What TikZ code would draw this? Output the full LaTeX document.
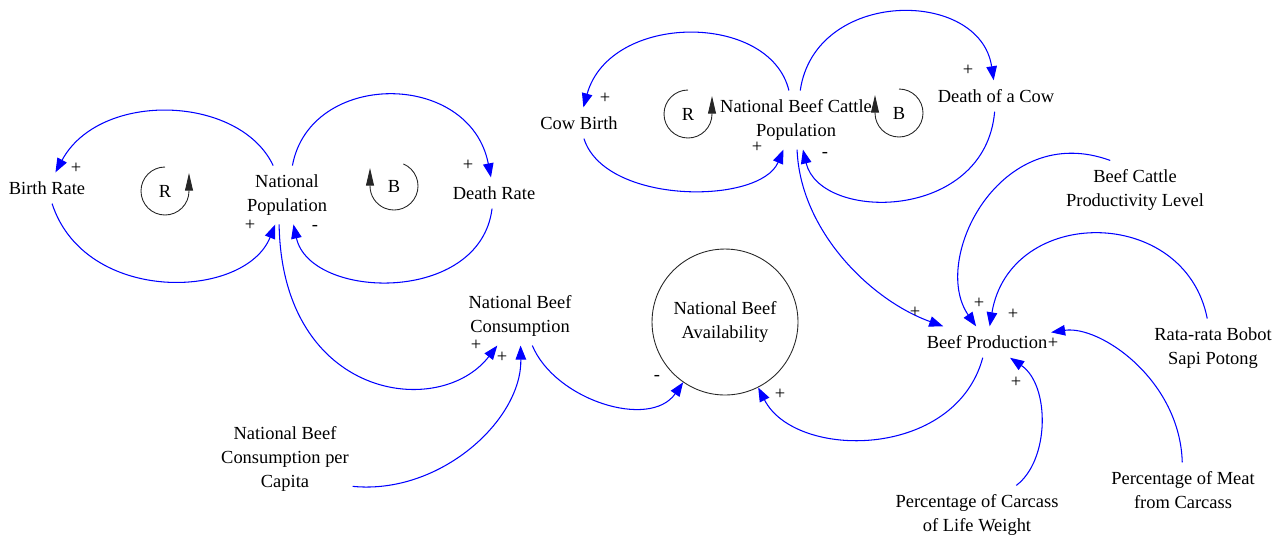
\documentclass[tikz,border=0pt]{standalone}
\usepackage{fontspec}
\setmainfont{Liberation Serif}
\usetikzlibrary{arrows.meta}

\begin{document}
\begin{tikzpicture}
    [x=0.02cm,y=-0.02cm,
     var/.style={align=center, inner xsep=2pt, inner ysep=5pt, font=\fontsize{10.5}{13.6}\selectfont},
     sign/.style={inner sep=0pt, font=\fontsize{10.5}{12}\selectfont},
     link/.style={draw=blue, line width=0.6pt, -{Triangle[length=8pt,width=6pt]}},
     loopline/.style={draw=black!85, line width=0.5pt, -{Triangle[length=10pt,width=4.5pt]}}]

    \useasboundingbox (0,0) rectangle (1283,539);

    % variables
    \node[var] (birth) at (47,188) {Birth Rate};
    \node[var] (pop) at (287,195) {National\\Population};
    \node[var] (death) at (494,193) {Death Rate};
    \node[var] (cowbirth) at (579,123) {Cow Birth};
    \node[var] (cattle) at (796,120) {National Beef Cattle\\Population};
    \node[var] (cowdeath) at (996,96) {Death of a Cow};
    \node[var] (cons) at (520,316) {National Beef\\Consumption};
    \node[var] (percap) at (285,459) {National Beef\\Consumption per\\Capita};
    \node[var, circle, draw=black!85, line width=0.5pt, minimum size=2.92cm, inner sep=0pt] (avail) at (725,322) {National Beef\\Availability};
    \node[var] (prod) at (987,342) {Beef Production};
    \node[var] (level) at (1135,190) {Beef Cattle\\Productivity Level};
    \node[var] (bobot) at (1213,348) {Rata-rata Bobot\\Sapi Potong};
    \node[var] (meat) at (1183,490) {Percentage of Meat\\from Carcass};
    \node[var] (carcass) at (977,515) {Percentage of Carcass\\of Life Weight};

    % loop markers
    \node[var, inner sep=0pt] (loopR1) at (165,191) {R};
    \node[var, inner sep=0pt] (loopB1) at (394,186) {B};
    \node[var, inner sep=0pt] (loopR2) at (688,114) {R};
    \node[var, inner sep=0pt] (loopB2) at (899,113) {B};
    \draw[loopline] (loopR1) ++(-90:24) arc[start angle=-90, end angle=-360, radius=24] -- ++(0,-18);
    \draw[loopline] (loopB1) ++(-67:24) arc[start angle=-67, end angle=180, radius=24] -- ++(0,-18);
    \draw[loopline] (loopR2) ++(-90:24) arc[start angle=-90, end angle=-360, radius=24] -- ++(0,-18);
    \draw[loopline] (loopB2) ++(-90:24) arc[start angle=-90, end angle=180, radius=24] -- ++(0,-18);

    % links
    \draw[link] (pop) .. controls (240,95) and (100,90) .. (birth);
    \draw[link] (birth) .. controls (85,305) and (245,300) .. (pop);
    \draw[link] (pop) .. controls (310,70) and (470,70) .. (death);
    \draw[link] (death) .. controls (480,305) and (310,300) .. (pop);
    \draw[link] (pop.-105) .. controls (282,400) and (440,420) .. (cons);
    \draw[link] (percap.-22) .. controls (440,495) and (522,420) .. (cons);
    \draw[link] (cons) .. controls (555,400) and (650,430) .. (avail);
    \draw[link] (prod) .. controls (955,460) and (795,460) .. (avail);
    \draw[link] (cattle) .. controls (770,12) and (610,12) .. (cowbirth);
    \draw[link] (cowbirth) .. controls (605,205) and (760,205) .. (cattle);
    \draw[link] (cattle) .. controls (815,-12) and (980,-12) .. (cowdeath);
    \draw[link] (cowdeath) .. controls (985,222) and (820,222) .. (cattle);
    \draw[link] (cattle) .. controls (800,230) and (870,300) .. (prod);
    \draw[link] (level.130) .. controls (1000,120) and (930,260) .. (prod);
    \draw[link] (bobot) .. controls (1185,205) and (1010,205) .. (prod);
    \draw[link] (meat) .. controls (1180,380) and (1100,325) .. (prod);
    \draw[link] (carcass) .. controls (1050,460) and (1050,385) .. (prod);

    % polarities
    \node[sign] (pBirth) at (76,168) {+};
    \node[sign] (pPopB) at (250,225) {+};
    \node[sign] (pDeath) at (468,165) {+};
    \node[sign] (pPopD) at (315,228) {-};
    \node[sign] (pConsP) at (476,345) {+};
    \node[sign] (pConsC) at (502,357) {+};
    \node[sign] (pAvailC) at (657,378) {-};
    \node[sign] (pAvailP) at (780,394) {+};
    \node[sign] (pCowBirth) at (605,98) {+};
    \node[sign] (pCattleB) at (757,147) {+};
    \node[sign] (pCowDeath) at (968,70) {+};
    \node[sign] (pCattleD) at (825,155) {-};
    \node[sign] (pProdC) at (915,312) {+};
    \node[sign] (pProdL) at (979,303) {+};
    \node[sign] (pProdB) at (1013,314) {+};
    \node[sign] (pProdM) at (1053,343) {+};
    \node[sign] (pProdK) at (1016,382) {+};
\end{tikzpicture}
\end{document}
